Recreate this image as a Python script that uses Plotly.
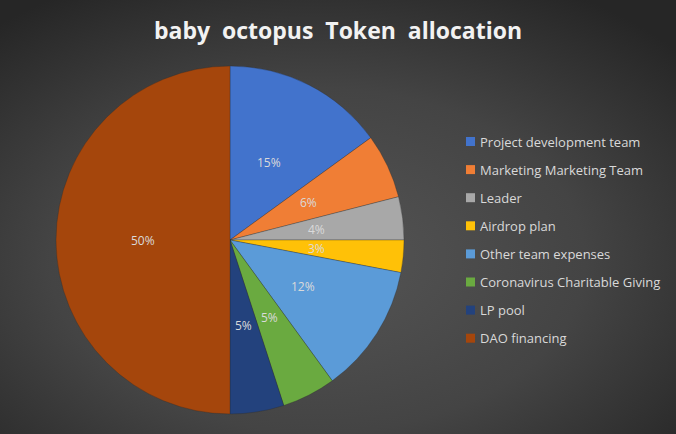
import base64
import numpy as np
import plotly.graph_objects as go

labels = ["Project development team", "Marketing Marketing Team", "Leader", "Airdrop plan",
          "Other team expenses", "Coronavirus Charitable Giving", "LP pool", "DAO financing"]
values = [15, 6, 4, 3, 12, 5, 5, 50]
colors = ["#4273CC", "#F07E35", "#A8A8A8", "#FFC107", "#5B9BD8", "#6AAA40", "#23427D", "#A5460C"]
title = "baby  octopus  Token  allocation"

W, H = 676, 434
PIE_L, PIE_R, PIE_T, PIE_B = 56, 404, 66, 414
dom = dict(x=[PIE_L / W, PIE_R / W], y=[1 - PIE_B / H, 1 - PIE_T / H])

svg = (f'<svg xmlns="http://www.w3.org/2000/svg" width="{W}" height="{H}">'
       '<defs><radialGradient id="g" cx="0.47" cy="0.6" r="0.72">'
       '<stop offset="0" stop-color="#555555"/><stop offset="0.55" stop-color="#444444"/>'
       '<stop offset="1" stop-color="#262626"/></radialGradient></defs>'
       f'<rect width="{W}" height="{H}" fill="url(#g)"/></svg>')
bg_uri = "data:image/svg+xml;base64," + base64.b64encode(svg.encode()).decode()

fig = go.Figure(go.Pie(
    labels=labels, values=values, sort=False, direction="clockwise", rotation=0,
    marker=dict(colors=colors, line=dict(color="rgba(40,40,40,0.5)", width=0.6)),
    textinfo="none",
    domain=dom,
    showlegend=False, hoverinfo="label+percent",
))

annotations = []

# percent labels at about half radius along each slice bisector (derived from the values)
vals = np.array(values, dtype=float)
total = vals.sum()
mid = (np.cumsum(vals) - vals / 2) / total * 2 * np.pi
cx, cy = (PIE_L + PIE_R) / 2, (PIE_T + PIE_B) / 2
R = (PIE_R - PIE_L) / 2
for v, a in zip(vals, mid):
    px = cx + 0.5 * R * np.sin(a)
    py = cy - 0.5 * R * np.cos(a)
    annotations.append(dict(text=f"{v / total:.0%}", xref="paper", yref="paper",
                            x=px / W, y=1 - py / H, xanchor="center", yanchor="middle",
                            showarrow=False,
                            font=dict(family="Open Sans", size=12, color="#DADADA")))

# legend drawn as layout annotations + square shapes
leg_x_marker = 466
leg_x_text = 478
leg_y0 = 141.5
leg_step = 28.1
shapes = []
for i, (lab, col) in enumerate(zip(labels, colors)):
    yc = leg_y0 + i * leg_step
    shapes.append(dict(type="rect", xref="paper", yref="paper",
                       x0=leg_x_marker / W, x1=(leg_x_marker + 9) / W,
                       y0=1 - (yc + 4.5) / H, y1=1 - (yc - 4.5) / H,
                       fillcolor=col, line=dict(width=0), layer="above"))
    annotations.append(dict(text=lab, xref="paper", yref="paper",
                            x=leg_x_text / W, y=1 - yc / H, xanchor="left", yanchor="middle",
                            showarrow=False,
                            font=dict(family="Open Sans", size=13, color="#D9D9D9")))

fig.update_layout(
    width=W, height=H,
    margin=dict(l=0, r=0, t=0, b=0),
    paper_bgcolor="#3a3a3a",
    plot_bgcolor="rgba(0,0,0,0)",
    title=dict(text=f"<b>{title}</b>", x=0.5, xanchor="center", y=1 - 31 / H, yanchor="middle",
               font=dict(family="Open Sans", size=23, color="#F2F2F2")),
    images=[dict(source=bg_uri, xref="paper", yref="paper", x=0, y=1, sizex=1, sizey=1,
                 xanchor="left", yanchor="top", sizing="stretch", layer="below")],
    shapes=shapes,
    annotations=annotations,
)

fig.write_html("out.html")
